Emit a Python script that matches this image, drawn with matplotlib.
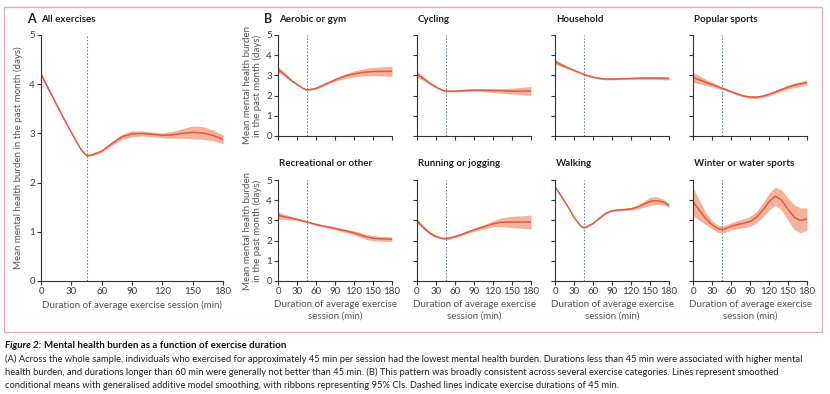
import matplotlib
matplotlib.use('Agg')
import matplotlib.pyplot as plt
from matplotlib.patches import Rectangle
import numpy as np

plt.rcParams['font.family'] = ['Lato', 'DejaVu Sans']

minutes = [0, 10, 20, 30, 40, 45, 50, 60, 70, 80, 90, 100, 110, 120, 130, 140, 150, 160, 170, 180]

all_mean = [4.2, 3.8, 3.4, 3.02, 2.66, 2.55, 2.56, 2.64, 2.79, 2.93, 2.99, 3.0, 2.98, 2.96, 2.97, 3.0, 3.02, 3.01, 2.96, 2.88]
all_ci = [0.05, 0.03, 0.02, 0.02, 0.02, 0.02, 0.02, 0.03, 0.04, 0.05, 0.06, 0.05, 0.05, 0.05, 0.07, 0.1, 0.13, 0.13, 0.11, 0.09]

aerobic_mean = [3.3, 3.05, 2.78, 2.55, 2.35, 2.29, 2.3, 2.36, 2.5, 2.64, 2.78, 2.9, 3.0, 3.07, 3.13, 3.17, 3.19, 3.2, 3.2, 3.2]
aerobic_ci = [0.15, 0.1, 0.07, 0.05, 0.04, 0.04, 0.04, 0.05, 0.06, 0.07, 0.08, 0.1, 0.12, 0.15, 0.17, 0.19, 0.2, 0.22, 0.24, 0.25]

cycling_mean = [3.05, 2.85, 2.62, 2.42, 2.27, 2.23, 2.22, 2.22, 2.24, 2.26, 2.27, 2.27, 2.26, 2.25, 2.24, 2.23, 2.22, 2.22, 2.22, 2.23]
cycling_ci = [0.15, 0.1, 0.07, 0.05, 0.04, 0.04, 0.04, 0.04, 0.05, 0.06, 0.06, 0.07, 0.08, 0.1, 0.11, 0.13, 0.15, 0.17, 0.2, 0.22]

household_mean = [3.68, 3.52, 3.38, 3.25, 3.12, 3.06, 3.0, 2.92, 2.85, 2.82, 2.82, 2.83, 2.84, 2.85, 2.86, 2.87, 2.87, 2.87, 2.86, 2.85]
household_ci = [0.13, 0.09, 0.06, 0.04, 0.04, 0.04, 0.04, 0.04, 0.04, 0.04, 0.04, 0.04, 0.04, 0.05, 0.05, 0.06, 0.06, 0.07, 0.07, 0.08]

popular_mean = [2.9, 2.78, 2.66, 2.55, 2.43, 2.37, 2.32, 2.2, 2.08, 1.98, 1.93, 1.92, 1.97, 2.06, 2.18, 2.3, 2.42, 2.51, 2.58, 2.65]
popular_ci = [0.25, 0.2, 0.15, 0.12, 0.09, 0.08, 0.07, 0.06, 0.06, 0.06, 0.07, 0.07, 0.07, 0.08, 0.08, 0.09, 0.1, 0.11, 0.12, 0.13]

recreational_mean = [3.25, 3.18, 3.12, 3.05, 2.97, 2.93, 2.89, 2.8, 2.73, 2.67, 2.6, 2.53, 2.46, 2.38, 2.28, 2.18, 2.12, 2.09, 2.08, 2.07]
recreational_ci = [0.18, 0.13, 0.09, 0.06, 0.05, 0.04, 0.04, 0.05, 0.05, 0.06, 0.07, 0.08, 0.09, 0.1, 0.12, 0.13, 0.13, 0.12, 0.12, 0.12]

running_mean = [2.98, 2.65, 2.38, 2.2, 2.11, 2.1, 2.12, 2.2, 2.3, 2.42, 2.53, 2.63, 2.73, 2.83, 2.89, 2.92, 2.92, 2.92, 2.92, 2.92]
running_ci = [0.12, 0.09, 0.07, 0.05, 0.05, 0.05, 0.05, 0.05, 0.06, 0.07, 0.08, 0.1, 0.12, 0.15, 0.2, 0.25, 0.28, 0.3, 0.32, 0.35]

walking_mean = [4.67, 4.2, 3.7, 3.15, 2.74, 2.64, 2.68, 2.85, 3.1, 3.35, 3.48, 3.52, 3.54, 3.57, 3.66, 3.8, 3.94, 3.98, 3.92, 3.75]
walking_ci = [0.05, 0.04, 0.03, 0.03, 0.03, 0.03, 0.03, 0.03, 0.04, 0.04, 0.05, 0.05, 0.05, 0.07, 0.1, 0.15, 0.2, 0.2, 0.15, 0.1]

winter_mean = [3.93, 3.5, 3.1, 2.78, 2.58, 2.56, 2.58, 2.7, 2.79, 2.86, 2.95, 3.15, 3.5, 3.92, 4.2, 4.0, 3.55, 3.15, 3.0, 3.07]
winter_ci = [0.7, 0.5, 0.3, 0.2, 0.18, 0.17, 0.17, 0.18, 0.2, 0.22, 0.25, 0.28, 0.35, 0.42, 0.45, 0.5, 0.55, 0.62, 0.62, 0.55]

LINE = '#e05a44'
FILL = '#f3b39a'
DASH = '#6f8a96'
TXT = '#3a3a3a'
W, H = 830, 394

fig = plt.figure(figsize=(8.3, 3.94), dpi=100)

# pink frame
fig.patches.append(Rectangle((4 / W, 1 - 332 / H), 818 / W, 325 / H, transform=fig.transFigure,
                             fill=False, edgecolor='#e4aac2', lw=1.0))


def box(x0, y0, x1, y1):
    return [x0 / W, 1 - y1 / H, (x1 - x0) / W, (y1 - y0) / H]


def draw(ax, mean, ci, xlab=True, ylab=True):
    m = np.array(mean)
    c = np.array(ci)
    ax.fill_between(minutes, m - c, m + c, color=FILL, lw=0)
    ax.plot(minutes, m, color=LINE, lw=1.1)
    ax.axvline(45, color=DASH, ls=(0, (1.5, 1.5)), lw=0.8)
    ax.set_xlim(0, 180)
    ax.set_ylim(0, 5)
    ax.set_xticks(range(0, 181, 30))
    ax.set_yticks(range(0, 6))
    for s in ['top', 'right']:
        ax.spines[s].set_visible(False)
    for s in ['left', 'bottom']:
        ax.spines[s].set_color('#333333')
        ax.spines[s].set_linewidth(0.8)
    ax.tick_params(length=3, width=0.8, color='#333333', labelsize=7, labelcolor=TXT, pad=1.5)
    if not xlab:
        ax.set_xticklabels([])
    if not ylab:
        ax.set_yticklabels([])


# panel A
axA = fig.add_axes(box(41, 35, 223, 281))
draw(axA, all_mean, all_ci)
axA.set_xlabel('Duration of average exercise session (min)', fontsize=7, color='#555555', labelpad=3)
axA.set_ylabel('Mean mental health burden in the past month (days)', fontsize=7, color='#555555', labelpad=4)
fig.text(27 / W, 1 - 19 / H, 'A', fontsize=9, fontweight='bold', color='#222222', va='center')
fig.text(41 / W, 1 - 19 / H, 'All exercises', fontsize=7, fontweight='bold', color='#222222', va='center')
fig.text(264 / W, 1 - 19 / H, 'B', fontsize=9, fontweight='bold', color='#222222', va='center')

panels = [
    ('Aerobic or gym', aerobic_mean, aerobic_ci),
    ('Cycling', cycling_mean, cycling_ci),
    ('Household', household_mean, household_ci),
    ('Popular sports', popular_mean, popular_ci),
    ('Recreational or other', recreational_mean, recreational_ci),
    ('Running or jogging', running_mean, running_ci),
    ('Walking', walking_mean, walking_ci),
    ('Winter or water sports', winter_mean, winter_ci),
]
lefts = [278, 417, 555, 693]
rows = [(35, 136), (180, 281)]

for i, (title, mean, ci) in enumerate(panels):
    r, c = divmod(i, 4)
    y0, y1 = rows[r]
    ax = fig.add_axes(box(lefts[c], y0, lefts[c] + 114, y1))
    draw(ax, mean, ci, xlab=(r == 1), ylab=(c == 0))
    fig.text(lefts[c] / W + 0.001, 1 - (y0 - 16) / H, title, fontsize=7, fontweight='bold',
             color='#222222', va='center')
    if c == 0:
        ax.set_ylabel('Mean mental health burden\nin the past month (days)', fontsize=7,
                      color='#555555', labelpad=3, linespacing=1.1)
    if r == 1:
        ax.set_xlabel('Duration of average exercise\nsession (min)', fontsize=7,
                      color='#555555', labelpad=3, linespacing=1.3)

# caption
renderer = fig.canvas.get_renderer()
t1 = fig.text(5 / W, 1 - 345 / H, 'Figure 2:', fontsize=7, fontweight='bold', style='italic',
              color='#111111', va='center')
x_end = t1.get_window_extent(renderer).x1
fig.text((x_end + 3) / W, 1 - 345 / H, 'Mental health burden as a function of exercise duration',
         fontsize=7, fontweight='bold', color='#111111', va='center')
cap = ['(A) Across the whole sample, individuals who exercised for approximately 45 min per session had the lowest mental health burden. Durations less than 45 min were associated with higher mental',
       'health burden, and durations longer than 60 min were generally not better than 45 min. (B) This pattern was broadly consistent across several exercise categories. Lines represent smoothed',
       'conditional means with generalised additive model smoothing, with ribbons representing 95% CIs. Dashed lines indicate exercise durations of 45 min.']
for k, line in enumerate(cap):
    fig.text(5 / W, 1 - (359 + 13 * k) / H, line, fontsize=6.75, color='#222222', va='center')

fig.savefig('out.png', dpi=100)
